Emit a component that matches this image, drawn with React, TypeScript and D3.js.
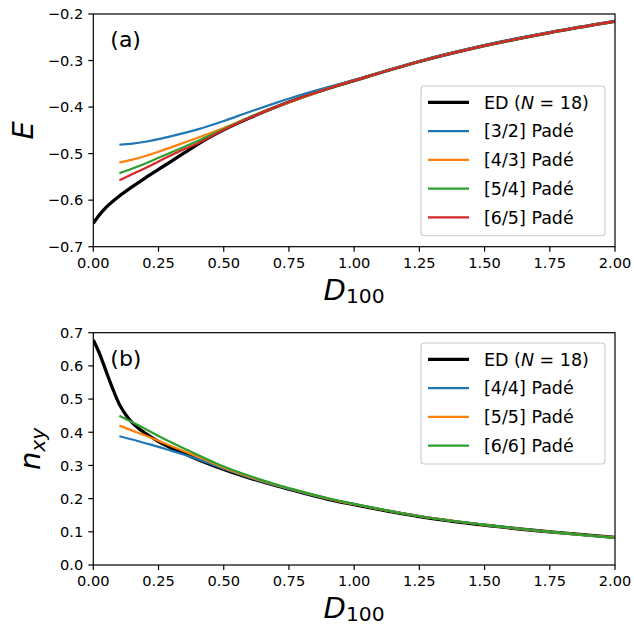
import React, { useEffect, useRef } from "react";
import * as d3 from "d3";

// panel (a): ground-state energy
const D_ED_A = [0, 0.02, 0.05, 0.1, 0.15, 0.2, 0.25, 0.3, 0.35, 0.4, 0.5, 0.6, 0.7, 0.8, 0.9, 1.0, 1.25, 1.5, 1.75, 2.0];
const E_ED = [-0.65, -0.634, -0.615, -0.591, -0.571, -0.552, -0.534, -0.516, -0.498, -0.48, -0.449, -0.423, -0.4, -0.379, -0.36, -0.343, -0.302, -0.268, -0.24, -0.216];
const D_PADE_A = [0.1, 0.15, 0.2, 0.25, 0.3, 0.35, 0.4, 0.5, 0.6, 0.7, 0.8, 0.9, 1.0, 1.25, 1.5, 1.75, 2.0];
const E_32 = [-0.481, -0.4785, -0.4745, -0.469, -0.4625, -0.4555, -0.448, -0.43, -0.41, -0.391, -0.373, -0.357, -0.342, -0.301, -0.267, -0.239, -0.215];
const E_43 = [-0.519, -0.513, -0.505, -0.496, -0.486, -0.476, -0.466, -0.445, -0.422, -0.4, -0.38, -0.36, -0.343, -0.302, -0.268, -0.24, -0.216];
const E_54 = [-0.542, -0.532, -0.521, -0.509, -0.497, -0.485, -0.473, -0.447, -0.422, -0.4, -0.379, -0.36, -0.343, -0.302, -0.268, -0.24, -0.216];
const E_65 = [-0.557, -0.544, -0.531, -0.517, -0.503, -0.49, -0.478, -0.449, -0.423, -0.4, -0.379, -0.36, -0.343, -0.302, -0.268, -0.24, -0.216];

// panel (b): n_xy
const D_ED_B = [0, 0.025, 0.05, 0.075, 0.1, 0.125, 0.15, 0.175, 0.2, 0.25, 0.3, 0.35, 0.4, 0.5, 0.6, 0.7, 0.8, 0.9, 1.0, 1.25, 1.5, 1.75, 2.0];
const N_ED = [0.678, 0.635, 0.582, 0.53, 0.484, 0.452, 0.428, 0.411, 0.397, 0.372, 0.352, 0.335, 0.318, 0.288, 0.262, 0.239, 0.218, 0.198, 0.182, 0.146, 0.12, 0.1, 0.083];
const D_PADE_B = [0.1, 0.15, 0.2, 0.25, 0.3, 0.35, 0.4, 0.5, 0.6, 0.7, 0.8, 0.9, 1.0, 1.25, 1.5, 1.75, 2.0];
const N_44 = [0.388, 0.378, 0.367, 0.356, 0.344, 0.332, 0.319, 0.29, 0.263, 0.24, 0.219, 0.199, 0.183, 0.147, 0.121, 0.1, 0.083];
const N_55 = [0.42, 0.405, 0.39, 0.374, 0.358, 0.342, 0.327, 0.293, 0.265, 0.241, 0.22, 0.2, 0.183, 0.147, 0.121, 0.1, 0.083];
const N_66 = [0.45, 0.43, 0.41, 0.389, 0.369, 0.35, 0.332, 0.297, 0.268, 0.243, 0.221, 0.201, 0.184, 0.147, 0.121, 0.1, 0.082];

const X_TICKS = [0, 0.25, 0.5, 0.75, 1.0, 1.25, 1.5, 1.75, 2.0];
const Y_TICKS_A = [-0.7, -0.6, -0.5, -0.4, -0.3, -0.2];
const Y_TICKS_B = [0, 0.1, 0.2, 0.3, 0.4, 0.5, 0.6, 0.7];

const LABELS_A = ["[3/2] Padé", "[4/3] Padé", "[5/4] Padé", "[6/5] Padé"];
const LABELS_B = ["[4/4] Padé", "[5/5] Padé", "[6/6] Padé"];
const COLORS = ["#1f77b4", "#ff7f0e", "#2ca02c", "#d62728"];

const W = 634;
const H = 626;
const FONT = "DejaVu Sans, sans-serif";
const TICK_FS = 14.6;
const LEG_FS = 17.5;
const LAB_FS = 29;
const ED_W = 3.3;
const PADE_W = 2.2;

const fmtY = (v: number) => d3.format(".1f")(v).replace("-", "\u2212");

const drawPanel = (svg: any, cfg: any) => {
  const { top, bottom, left, right, yDomain, yTicks, series, labels, tag, yLabel, id } = cfg;
  const x = d3.scaleLinear().domain([0, 2]).range([left, right]);
  const y = d3.scaleLinear().domain(yDomain).range([bottom, top]);

  svg
    .append("clipPath")
    .attr("id", id)
    .append("rect")
    .attr("x", left)
    .attr("y", top)
    .attr("width", right - left)
    .attr("height", bottom - top);

  const line = d3
    .line<[number, number]>()
    .x((d) => x(d[0]))
    .y((d) => y(d[1]))
    .curve(d3.curveMonotoneX);

  const g = svg.append("g").attr("clip-path", `url(#${id})`);
  series.forEach((s: any) => {
    const pts = s.xs.map((xv: number, i: number) => [xv, s.ys[i]]);
    g.append("path")
      .attr("d", line(pts))
      .attr("fill", "none")
      .attr("stroke", s.color)
      .attr("stroke-width", s.width)
      .attr("stroke-linejoin", "round");
  });

  // frame
  svg
    .append("rect")
    .attr("x", left)
    .attr("y", top)
    .attr("width", right - left)
    .attr("height", bottom - top)
    .attr("fill", "none")
    .attr("stroke", "black")
    .attr("stroke-width", 1.2);

  const xAxis = svg.append("g");
  X_TICKS.forEach((t) => {
    xAxis.append("line").attr("x1", x(t)).attr("x2", x(t)).attr("y1", bottom).attr("y2", bottom + 5).attr("stroke", "black").attr("stroke-width", 1.2);
    xAxis
      .append("text")
      .attr("x", x(t))
      .attr("y", bottom + 10 + 0.76 * TICK_FS)
      .attr("text-anchor", "middle")
      .attr("font-size", TICK_FS)
      .text(d3.format(".2f")(t));
  });
  const yAxis = svg.append("g");
  yTicks.forEach((t: number) => {
    yAxis.append("line").attr("x1", left - 5).attr("x2", left).attr("y1", y(t)).attr("y2", y(t)).attr("stroke", "black").attr("stroke-width", 1.2);
    yAxis
      .append("text")
      .attr("x", left - 10)
      .attr("y", y(t) + 0.365 * TICK_FS)
      .attr("text-anchor", "end")
      .attr("font-size", TICK_FS)
      .text(fmtY(t));
  });

  // x label D_100
  const xl = svg
    .append("text")
    .attr("x", (left + right) / 2)
    .attr("y", bottom + 53)
    .attr("text-anchor", "middle")
    .attr("font-size", LAB_FS);
  xl.append("tspan").attr("font-style", "italic").text("D");
  xl.append("tspan").attr("font-size", LAB_FS * 0.7).attr("dy", 3).text("100");

  // y label
  const yl = svg
    .append("text")
    .attr("transform", `translate(${yLabel.x},${(top + bottom) / 2}) rotate(-90)`)
    .attr("text-anchor", "middle")
    .attr("font-size", LAB_FS);
  yl.append("tspan").attr("font-style", "italic").text(yLabel.main);
  if (yLabel.sub) {
    yl.append("tspan").attr("font-style", "italic").attr("font-size", LAB_FS * 0.7).attr("dy", 5).text(yLabel.sub);
  }

  svg
    .append("text")
    .attr("x", left + 17)
    .attr("y", top + 33)
    .attr("font-size", 22)
    .text(tag);

  // legend
  const lg = cfg.legend;
  const rows = labels.length + 1;
  const rowH = 28.75;
  const boxH = rows * rowH + 6;
  svg
    .append("rect")
    .attr("x", lg.x)
    .attr("y", lg.y)
    .attr("width", 184)
    .attr("height", boxH)
    .attr("rx", 3.5)
    .attr("fill", "white")
    .attr("fill-opacity", 0.8)
    .attr("stroke", "#cccccc")
    .attr("stroke-width", 1.2);
  const entries = [{ label: null, color: "black", width: ED_W }].concat(
    labels.map((l: string, i: number) => ({ label: l, color: COLORS[i], width: PADE_W }))
  );
  entries.forEach((e: any, i: number) => {
    const cy = lg.y + 16.3 + i * rowH;
    svg.append("line").attr("x1", lg.x + 7).attr("x2", lg.x + 48).attr("y1", cy).attr("y2", cy).attr("stroke", e.color).attr("stroke-width", e.width);
    const t = svg
      .append("text")
      .attr("x", lg.x + 63)
      .attr("y", cy + 0.36 * LEG_FS)
      .attr("font-size", LEG_FS);
    if (e.label === null) {
      t.append("tspan").text("ED (");
      t.append("tspan").attr("font-style", "italic").text("N");
      t.append("tspan").text(" = 18)");
    } else {
      t.text(e.label);
    }
  });
};

const App = () => {
  const ref = useRef<SVGSVGElement>(null);

  useEffect(() => {
    const svg = d3.select(ref.current);
    svg.selectAll("*").remove();
    svg.attr("font-family", FONT);

    drawPanel(svg, {
      id: "clipA",
      top: 14,
      bottom: 246.7,
      left: 93.3,
      right: 615,
      yDomain: [-0.7, -0.2],
      yTicks: Y_TICKS_A,
      tag: "(a)",
      yLabel: { x: 33, main: "E" },
      labels: LABELS_A,
      legend: { x: 421, y: 86 },
      series: [
        { xs: D_ED_A, ys: E_ED, color: "black", width: ED_W },
        { xs: D_PADE_A, ys: E_32, color: COLORS[0], width: PADE_W },
        { xs: D_PADE_A, ys: E_43, color: COLORS[1], width: PADE_W },
        { xs: D_PADE_A, ys: E_54, color: COLORS[2], width: PADE_W },
        { xs: D_PADE_A, ys: E_65, color: COLORS[3], width: PADE_W },
      ],
    });

    drawPanel(svg, {
      id: "clipB",
      top: 332.7,
      bottom: 565,
      left: 93.3,
      right: 615,
      yDomain: [0, 0.7],
      yTicks: Y_TICKS_B,
      tag: "(b)",
      yLabel: { x: 40, main: "n", sub: "xy" },
      labels: LABELS_B,
      legend: { x: 421, y: 343 },
      series: [
        { xs: D_ED_B, ys: N_ED, color: "black", width: ED_W },
        { xs: D_PADE_B, ys: N_44, color: COLORS[0], width: PADE_W },
        { xs: D_PADE_B, ys: N_55, color: COLORS[1], width: PADE_W },
        { xs: D_PADE_B, ys: N_66, color: COLORS[2], width: PADE_W },
      ],
    });
  }, []);

  return (
    <svg
      ref={ref}
      width={W}
      height={H}
      style={{ position: "absolute", left: 0, top: 0, background: "white" }}
    />
  );
};

export default App;
